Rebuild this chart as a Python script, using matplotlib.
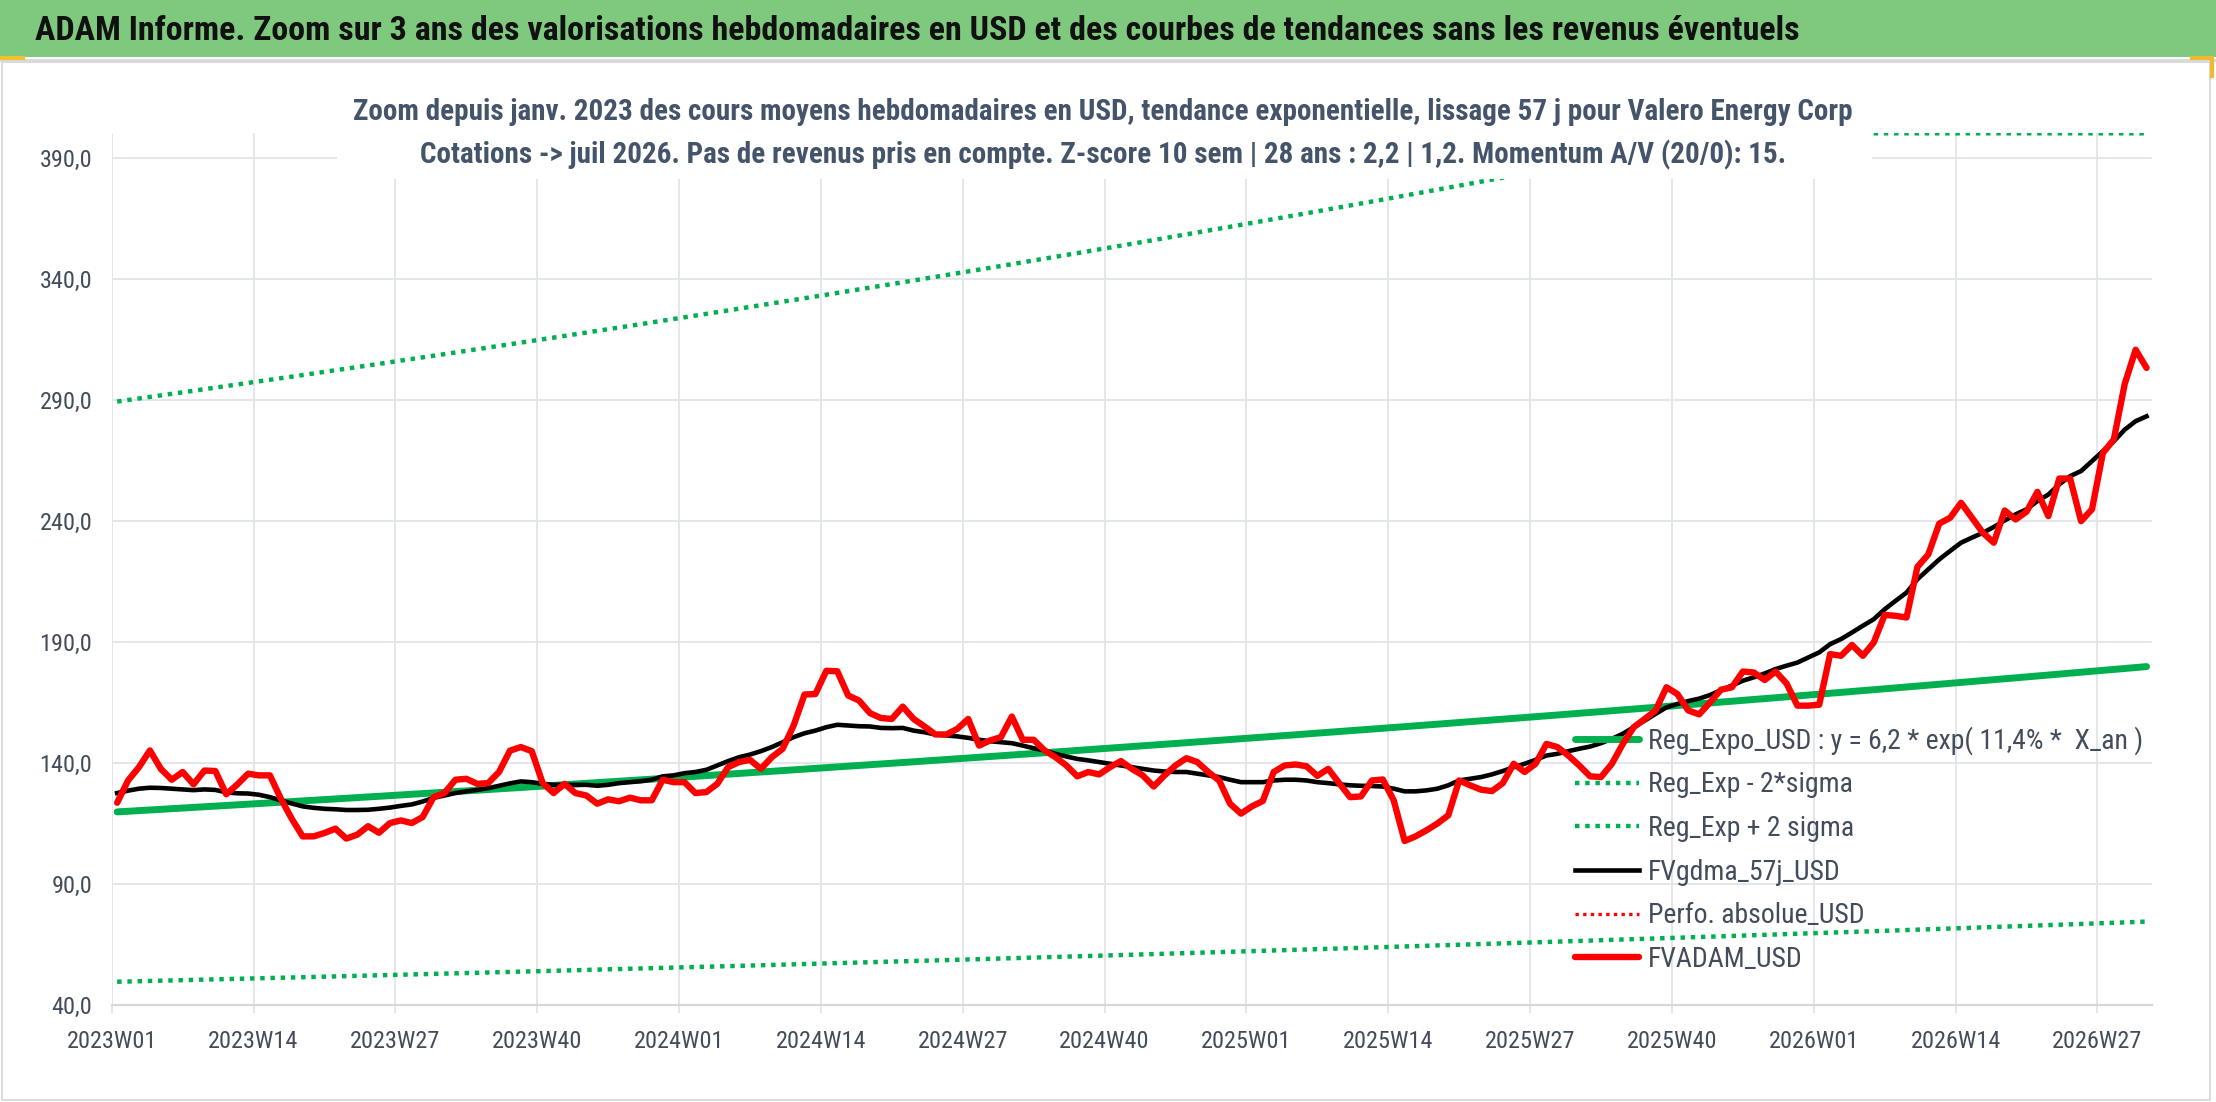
import numpy as np
import matplotlib
matplotlib.use('Agg')
import matplotlib.pyplot as plt
from matplotlib import font_manager
from matplotlib.patches import Rectangle
from matplotlib.lines import Line2D
from matplotlib.ticker import FuncFormatter

# police étroite si disponible
installed = {f.name for f in font_manager.fontManager.ttflist}
narrow = next((f for f in ['Liberation Sans Narrow', 'Roboto Condensed', 'Open Sans Condensed']
               if f in installed), 'DejaVu Sans')
k_font = 1.0 if narrow != 'DejaVu Sans' else 0.75
plt.rcParams['font.family'] = [narrow, 'DejaVu Sans']

# semaines (catégories) et étiquettes de l'axe
weeks = [f"{y}W{w:02d}" for y, nw in ((2023, 52), (2024, 52), (2025, 52), (2026, 31))
         for w in range(1, nw + 1)]
tick_labels = ['2023W01', '2023W14', '2023W27', '2023W40', '2024W01', '2024W14', '2024W27',
               '2024W40', '2025W01', '2025W14', '2025W27', '2025W40', '2026W01', '2026W14',
               '2026W27']

# FVADAM_USD (cours moyens hebdomadaires)
fvadam = [123.5, 132.7, 138.2, 145.1, 137.5, 133.0, 136.2, 131.1, 136.8, 136.6,
          127.0, 131.0, 135.5, 134.8, 134.8, 125.2, 116.9, 109.6, 109.6, 111.0,
          112.8, 108.7, 110.3, 113.8, 111.1, 115.1, 116.2, 115.1, 117.6, 125.8,
          127.5, 133.0, 133.4, 131.3, 131.6, 136.2, 145.0, 146.5, 144.8, 131.6,
          127.5, 131.3, 127.5, 126.5, 123.1, 124.9, 124.1, 125.6, 124.5, 124.5,
          133.0, 132.0, 132.0, 127.5, 127.9, 131.3, 138.2, 140.3, 141.2, 137.5,
          142.3, 145.8, 155.4, 168.2, 168.4, 178.0, 177.8, 167.8, 165.7, 160.5,
          158.5, 158.1, 163.2, 158.1, 155.0, 151.7, 151.7, 154.0, 158.1, 147.1,
          149.2, 150.6, 159.1, 149.5, 149.5, 145.1, 142.3, 138.9, 134.4, 136.2,
          135.2, 138.2, 140.7, 137.5, 134.8, 130.2, 134.8, 138.9, 141.9, 140.3,
          136.2, 132.7, 123.1, 119.0, 122.0, 124.2, 136.2, 138.9, 139.3, 138.6,
          134.6, 137.5, 131.6, 125.8, 126.1, 132.7, 133.1, 124.5, 107.7, 109.6,
          112.1, 114.9, 118.3, 132.7, 130.7, 128.9, 128.3, 131.6, 139.6, 136.2,
          139.6, 147.8, 146.5, 143.0, 138.9, 134.4, 134.1, 139.6, 147.8, 154.7,
          158.1, 161.6, 171.2, 168.4, 161.6, 160.0, 165.0, 170.2, 171.2, 177.7,
          177.3, 174.2, 177.7, 172.8, 163.6, 163.6, 164.0, 184.9, 184.2, 188.7,
          184.2, 189.7, 201.1, 200.7, 200.0, 220.9, 226.1, 238.8, 241.2, 247.4,
          241.2, 235.0, 230.9, 244.2, 240.5, 243.7, 251.9, 241.9, 257.4, 257.4,
          239.8, 244.7, 268.0, 273.5, 296.5, 310.6, 303.1]

# FVgdma_57j_USD (lissage)
fvgdma = [127.5, 128.5, 129.3, 129.7, 129.6, 129.3, 129.0, 128.7, 129.0, 128.8,
          127.8, 127.4, 127.3, 126.8, 125.8, 124.5, 123.2, 122.0, 121.4, 121.0,
          120.8, 120.5, 120.5, 120.6, 121.0, 121.5, 122.2, 122.8, 124.0, 125.5,
          126.5, 127.5, 128.2, 128.8, 129.5, 130.5, 131.5, 132.3, 132.0, 131.3,
          130.9, 130.9, 130.9, 130.9, 130.5, 130.9, 131.6, 132.0, 132.4, 133.0,
          134.4, 134.8, 135.7, 136.2, 137.1, 138.9, 140.7, 142.3, 143.4, 144.8,
          146.5, 148.5, 150.6, 152.2, 153.3, 154.7, 155.7, 155.4, 155.1, 155.0,
          154.4, 154.3, 154.4, 153.3, 152.6, 151.7, 151.3, 150.9, 150.3, 149.5,
          148.9, 148.5, 148.1, 147.1, 146.0, 145.1, 143.7, 142.6, 141.6, 141.0,
          140.3, 139.6, 138.9, 138.2, 137.5, 136.8, 136.4, 136.2, 136.2, 135.5,
          134.8, 134.1, 133.0, 132.0, 132.0, 132.0, 132.7, 133.0, 133.0, 132.7,
          132.0, 131.6, 131.1, 130.7, 130.5, 130.4, 130.2, 129.3, 128.2, 128.2,
          128.6, 129.3, 130.7, 132.7, 133.4, 134.1, 135.2, 136.6, 138.2, 139.6,
          141.2, 143.0, 143.7, 144.8, 145.8, 146.7, 148.1, 149.9, 152.0, 154.7,
          157.4, 160.2, 162.9, 164.3, 165.5, 166.5, 168.0, 170.0, 171.9, 173.9,
          175.3, 176.9, 178.7, 180.1, 181.4, 183.5, 185.6, 189.0, 191.1, 193.8,
          196.6, 199.3, 203.4, 206.9, 210.3, 215.8, 219.9, 224.0, 227.5, 230.9,
          233.0, 235.0, 237.4, 240.1, 242.6, 244.7, 248.1, 250.8, 255.0, 258.4,
          260.5, 264.6, 268.7, 272.8, 277.6, 281.1, 283.1]

# régression exponentielle (légende : y = 6,2 * exp(11,4% * X_an))
reg_a = 6.2
reg_rate = 0.114
x_an_start = 25.97      # X_an en 2023W01
two_sigma = 0.882       # écart en log
y_min, y_max = 40, 400

n = len(weeks)
x = np.arange(n) + 0.5
x_an = x_an_start + np.arange(n) / 52.18
reg = reg_a * np.exp(reg_rate * x_an)
reg_lo = reg * np.exp(-two_sigma)
reg_hi = np.minimum(reg * np.exp(two_sigma), y_max)   # Excel colle la courbe au max

W, H = 2216, 1102
fig = plt.figure(figsize=(W / 100, H / 100), dpi=100)

# bandeau titre
fig.add_artist(Rectangle((0, 1 - 57 / H), 1, 57 / H, transform=fig.transFigure,
                         facecolor='#7FC97F', edgecolor='none', zorder=1))
fig.add_artist(Line2D([0, 1], [1 - 59.5 / H, 1 - 59.5 / H], transform=fig.transFigure,
                      color='#DADADA', lw=2, zorder=1))
fig.add_artist(Rectangle((2 / W, 2 / H), 2208 / W, 1 - 64 / H, transform=fig.transFigure,
                         fill=False, edgecolor='#D6D6D6', lw=1.2, zorder=1))
fig.add_artist(Line2D([0, 23 / W], [1 - 58 / H, 1 - 58 / H], transform=fig.transFigure,
                      color='#F2C12E', lw=3, zorder=2))
fig.add_artist(Line2D([2192 / W, 2212 / W, 2212 / W], [1 - 58 / H, 1 - 58 / H, 1 - 76 / H],
                      transform=fig.transFigure, color='#F2B92E', lw=3, zorder=2))
fig.text(35 / W, 1 - 31 / H,
         'ADAM Informe. Zoom sur 3 ans des valorisations hebdomadaires en USD et des courbes '
         'de tendances sans les revenus éventuels',
         ha='left', va='center', fontsize=24.5 * k_font, fontweight='bold', color='#111111',
         zorder=3)

ax = fig.add_axes([111.7 / W, 1 - 1004.9 / H, (2152 - 111.7) / W, (1004.9 - 133.3) / H])

grid_c = '#E1E5EA'
dots = (0, (1, 1.3))
ax.plot(x, reg_lo, color='#00B050', lw=3.2, ls=dots, zorder=3,
        label='Reg_Exp - 2*sigma')
ax.plot(x, reg_hi, color='#00B050', lw=3.2, ls=dots, zorder=3,
        label='Reg_Exp + 2 sigma')
ax.plot(x, reg, color='#00B050', lw=5.0, solid_capstyle='round', zorder=4,
        label='Reg_Expo_USD : y = 6,2 * exp( 11,4% *  X_an )')
ax.plot(x, fvgdma, color='black', lw=3.3, solid_joinstyle='round', zorder=5,
        label='FVgdma_57j_USD')
ax.plot([], [], color='#FF0000', lw=2.4, ls=dots, label='Perfo. absolue_USD')
ax.plot(x, fvadam, color='#FF0000', lw=4.6, solid_joinstyle='round',
        solid_capstyle='round', zorder=6, label='FVADAM_USD')

ax.set_xlim(0, n)
ax.set_ylim(y_min, y_max)
ax.set_xticks([weeks.index(t) for t in tick_labels])
ax.set_xticklabels(tick_labels)
ax.set_yticks(np.arange(40, 391, 50))
ax.yaxis.set_major_formatter(FuncFormatter(lambda v, p: f"{v:.1f}".replace('.', ',')))
ax.grid(True, color=grid_c, lw=1.3)
ax.set_axisbelow(True)
for s in ax.spines.values():
    s.set_visible(False)
ax.spines['bottom'].set_visible(True)
ax.spines['bottom'].set_color('#D5D9DF')
ax.spines['bottom'].set_linewidth(1.6)
ax.tick_params(axis='x', length=6, width=1.3, color=grid_c, pad=12,
               labelsize=17.5 * k_font, labelcolor='#424C5A')
ax.tick_params(axis='y', length=0, pad=14, labelsize=17.5 * k_font, labelcolor='#424C5A')

h, l = ax.get_legend_handles_labels()
order = [2, 0, 1, 3, 4, 5]
ax.legend([h[i] for i in order], [l[i] for i in order], loc='upper left',
          bbox_to_anchor=(1575 / W, 1 - 726 / H), bbox_transform=fig.transFigure,
          frameon=False, borderpad=0, borderaxespad=0, handlelength=2.3,
          handletextpad=0.32, labelspacing=0.6, fontsize=20 * k_font,
          labelcolor='#424C5A')

# cadre blanc du sous-titre (masque les courbes)
fig.add_artist(Rectangle((337 / W, 1 - 179 / H), (1872 - 337) / W, (179 - 63) / H,
                         transform=fig.transFigure, facecolor='white', edgecolor='none',
                         zorder=5))
fig.text(1103 / W, 1 - 112 / H,
         'Zoom depuis janv. 2023 des cours moyens hebdomadaires en USD, tendance '
         'exponentielle, lissage 57 j pour Valero Energy Corp',
         ha='center', va='center', fontsize=21 * k_font, fontweight='bold', color='#44546A',
         zorder=6)
fig.text(1103 / W, 1 - 155 / H,
         'Cotations -> juil 2026. Pas de revenus pris en compte. Z-score 10 sem | 28 ans : '
         '2,2 | 1,2. Momentum A/V (20/0): 15.',
         ha='center', va='center', fontsize=21 * k_font, fontweight='bold', color='#44546A',
         zorder=6)

fig.savefig('out.png', dpi=100)
